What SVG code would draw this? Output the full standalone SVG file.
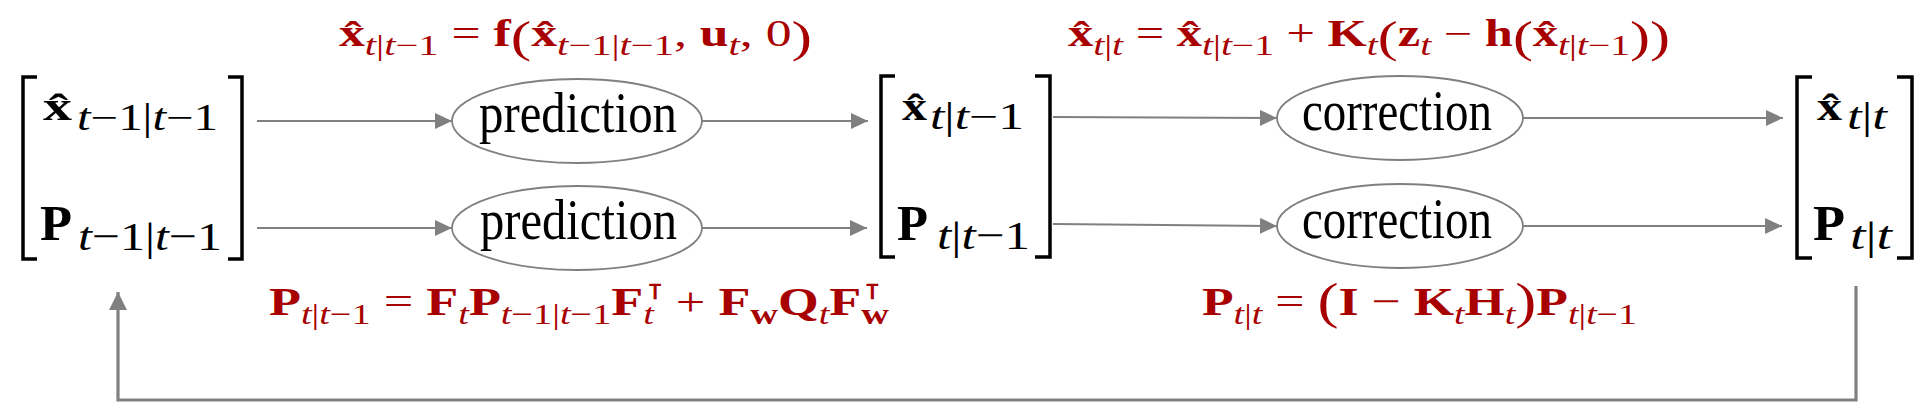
<svg xmlns="http://www.w3.org/2000/svg" width="1932" height="420" viewBox="0 0 1932 420">
<style>
text{font-family:"Liberation Serif","DejaVu Serif",serif;fill:#000}
.b{font-weight:bold}
.i{font-style:italic}
.red{fill:#a80000}
.red tspan{fill:#a80000}
.br{fill:none;stroke:#000;stroke-width:3.5}
.el{fill:#fff;stroke:#808080;stroke-width:1.8}
.lbl{font-size:58px}
.xm{font-size:40px;font-weight:bold}
.xs{font-size:37px}
.pm{font-size:50px;font-weight:bold}
.ps{font-size:41px}
.f1{font-size:37px}
.s1{font-size:29px}
.p1{font-size:44px}
.f3{font-size:41px}
.s3{font-size:30px}
.p3{font-size:50px}
.tr{font-size:22px;font-family:"DejaVu Sans",sans-serif;font-weight:bold}
.cn{fill:none;stroke:#808080;stroke-width:2}
.fb{fill:none;stroke:#808080;stroke-width:3.2}
</style>
<defs>
<marker id="ah" markerUnits="userSpaceOnUse" markerWidth="18" markerHeight="18" refX="17" refY="8" orient="auto"><path d="M0,0 L17,8 L0,16 z" fill="#808080"/></marker>
<marker id="ah2" markerUnits="userSpaceOnUse" markerWidth="20" markerHeight="20" refX="18" refY="9" orient="auto"><path d="M0,0 L18,9 L0,18 z" fill="#808080"/></marker>
</defs>
<rect width="1932" height="420" fill="#fff"/>

<g id="connectors">
<line class="cn" x1="257" y1="121" x2="452" y2="121" marker-end="url(#ah)"/>
<line class="cn" x1="257" y1="228" x2="452" y2="228" marker-end="url(#ah)"/>
<line class="cn" x1="702" y1="121" x2="868" y2="121" marker-end="url(#ah)"/>
<line class="cn" x1="702" y1="228" x2="867" y2="228" marker-end="url(#ah)"/>
<line class="cn" x1="1053" y1="117" x2="1277" y2="118" marker-end="url(#ah)"/>
<line class="cn" x1="1053" y1="224" x2="1277" y2="226" marker-end="url(#ah)"/>
<line class="cn" x1="1523" y1="118" x2="1783" y2="118" marker-end="url(#ah)"/>
<line class="cn" x1="1523" y1="226" x2="1782" y2="226" marker-end="url(#ah)"/>
<path class="fb" d="M1856,286 V400 H118 V292" marker-end="url(#ah2)"/>
</g>

<g id="state-prev">
<path class="br" d="M37,77 H23 V259 H37"/>
<path class="br" d="M228,77 H242 V259 H228"/>
<text class="xm" x="43" y="120" textLength="29" lengthAdjust="spacingAndGlyphs">x&#x302;</text>
<text class="xs" x="77" y="130" textLength="141" lengthAdjust="spacingAndGlyphs"><tspan class="i">t</tspan>−1|<tspan class="i">t</tspan>−1</text>
<text class="pm" x="40" y="240" textLength="32" lengthAdjust="spacingAndGlyphs">P</text>
<text class="ps" x="78" y="250" textLength="144" lengthAdjust="spacingAndGlyphs"><tspan class="i">t</tspan>−1|<tspan class="i">t</tspan>−1</text>
</g>

<g id="predict-x">
<ellipse class="el" cx="577" cy="121" rx="125" ry="42"/>
<text class="lbl" x="479" y="132" textLength="198" lengthAdjust="spacingAndGlyphs">prediction</text>
</g>
<g id="predict-P">
<ellipse class="el" cx="577" cy="228" rx="125" ry="42"/>
<text class="lbl" x="480" y="239" textLength="197" lengthAdjust="spacingAndGlyphs">prediction</text>
</g>

<g id="state-pred">
<path class="br" d="M895,76 H881 V257 H895"/>
<path class="br" d="M1035,76 H1050 V257 H1035"/>
<text class="xm" x="902" y="120" textLength="25" lengthAdjust="spacingAndGlyphs">x&#x302;</text>
<text class="xs" x="930" y="129" textLength="94" lengthAdjust="spacingAndGlyphs"><tspan class="i">t</tspan>|<tspan class="i">t</tspan>−1</text>
<text class="pm" x="897" y="240" textLength="31" lengthAdjust="spacingAndGlyphs">P</text>
<text class="ps" x="937" y="249" textLength="93" lengthAdjust="spacingAndGlyphs"><tspan class="i">t</tspan>|<tspan class="i">t</tspan>−1</text>
</g>

<g id="correct-x">
<ellipse class="el" cx="1400" cy="118" rx="123" ry="42"/>
<text class="lbl" x="1302" y="130" textLength="190" lengthAdjust="spacingAndGlyphs">correction</text>
</g>
<g id="correct-P">
<ellipse class="el" cx="1400" cy="226" rx="123" ry="42"/>
<text class="lbl" x="1302" y="238" textLength="190" lengthAdjust="spacingAndGlyphs">correction</text>
</g>

<g id="state-post">
<path class="br" d="M1812,77 H1797 V258 H1812"/>
<path class="br" d="M1897,77 H1912 V258 H1897"/>
<text class="xm" x="1817" y="120" textLength="25" lengthAdjust="spacingAndGlyphs">x&#x302;</text>
<text class="xs" x="1847" y="129" textLength="40" lengthAdjust="spacingAndGlyphs"><tspan class="i">t</tspan>|<tspan class="i">t</tspan></text>
<text class="pm" x="1813" y="240" textLength="32" lengthAdjust="spacingAndGlyphs">P</text>
<text class="ps" x="1850" y="249" textLength="42" lengthAdjust="spacingAndGlyphs"><tspan class="i">t</tspan>|<tspan class="i">t</tspan></text>
</g>

<g id="eq-predict-x">
<text class="red f1" x="339" y="46" textLength="473" lengthAdjust="spacingAndGlyphs"><tspan class="b">x&#x302;</tspan><tspan class="s1" dy="9"><tspan class="i">t</tspan>|<tspan class="i">t</tspan>−1</tspan><tspan dy="-9"> = </tspan><tspan class="b">f</tspan><tspan class="p1" dy="6">(</tspan><tspan class="b" dy="-6">x&#x302;</tspan><tspan class="s1" dy="9"><tspan class="i">t</tspan>−1|<tspan class="i">t</tspan>−1</tspan><tspan dy="-9">, </tspan><tspan class="b">u</tspan><tspan class="s1 i" dy="9">t</tspan><tspan dy="-9">, 0</tspan><tspan class="p1" dy="6">)</tspan></text>
</g>

<g id="eq-correct-x">
<text class="red f1" x="1068" y="46" textLength="602" lengthAdjust="spacingAndGlyphs"><tspan class="b">x&#x302;</tspan><tspan class="s1" dy="9"><tspan class="i">t</tspan>|<tspan class="i">t</tspan></tspan><tspan dy="-9"> = </tspan><tspan class="b">x&#x302;</tspan><tspan class="s1" dy="9"><tspan class="i">t</tspan>|<tspan class="i">t</tspan>−1</tspan><tspan dy="-9"> + </tspan><tspan class="b">K</tspan><tspan class="s1 i" dy="9">t</tspan><tspan class="p1" dy="-3">(</tspan><tspan class="b" dy="-6">z</tspan><tspan class="s1 i" dy="9">t</tspan><tspan dy="-9"> − </tspan><tspan class="b">h</tspan><tspan class="p1" dy="6">(</tspan><tspan class="b" dy="-6">x&#x302;</tspan><tspan class="s1" dy="9"><tspan class="i">t</tspan>|<tspan class="i">t</tspan>−1</tspan><tspan class="p1" dy="-3">))</tspan></text>
</g>

<g id="eq-predict-P">
<text class="red f3" x="269" y="315" textLength="620" lengthAdjust="spacingAndGlyphs"><tspan class="b">P</tspan><tspan class="s3" dy="9"><tspan class="i">t</tspan>|<tspan class="i">t</tspan>−1</tspan><tspan dy="-9"> = </tspan><tspan class="b">F</tspan><tspan class="s3 i" dy="9">t</tspan><tspan class="b" dy="-9">P</tspan><tspan class="s3" dy="9"><tspan class="i">t</tspan>−1|<tspan class="i">t</tspan>−1</tspan><tspan class="b" dy="-9">F</tspan><tspan class="s3 i" dy="9">t</tspan><tspan class="tr" dx="-5" dy="-25">⊺</tspan><tspan dy="16"> + </tspan><tspan class="b">F</tspan><tspan class="s3 b" dy="9">w</tspan><tspan class="b" dy="-9">Q</tspan><tspan class="s3 i" dy="9">t</tspan><tspan class="b" dy="-9">F</tspan><tspan class="s3 b" dy="9">w</tspan><tspan class="tr" dx="-19" dy="-25">⊺</tspan></text>
</g>

<g id="eq-correct-P">
<text class="red f3" x="1202" y="315" textLength="435" lengthAdjust="spacingAndGlyphs"><tspan class="b">P</tspan><tspan class="s3" dy="9"><tspan class="i">t</tspan>|<tspan class="i">t</tspan></tspan><tspan dy="-9"> = </tspan><tspan class="p3" dy="3">(</tspan><tspan class="b" dy="-3">I</tspan><tspan> − </tspan><tspan class="b">K</tspan><tspan class="s3 i" dy="9">t</tspan><tspan class="b" dy="-9">H</tspan><tspan class="s3 i" dy="9">t</tspan><tspan class="p3" dy="-6">)</tspan><tspan class="b" dy="-3">P</tspan><tspan class="s3" dy="9"><tspan class="i">t</tspan>|<tspan class="i">t</tspan>−1</tspan></text>
</g>
</svg>
